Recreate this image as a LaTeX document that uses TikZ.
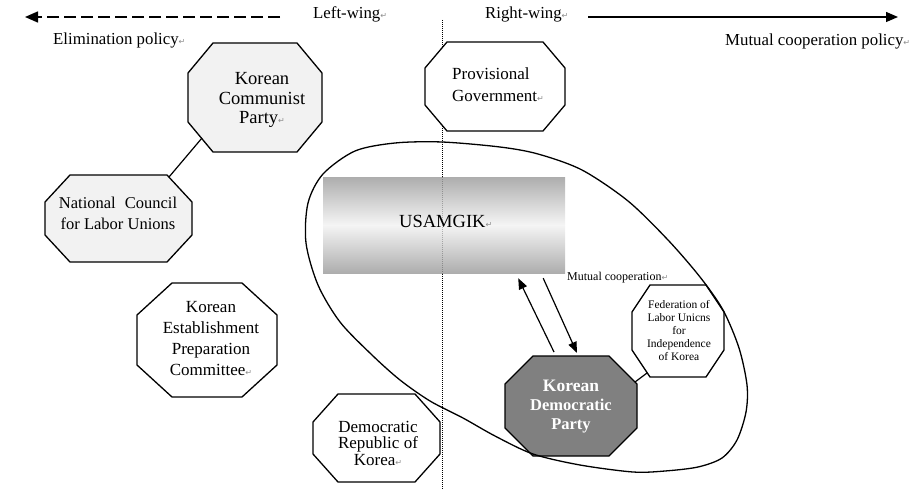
\documentclass[tikz,border=0pt]{standalone}
\usepackage{fontspec}
\setmainfont{Liberation Serif}
\newfontfamily\symfont{DejaVu Sans}
\usetikzlibrary{arrows.meta,calc}
\definecolor{lightfill}{HTML}{F2F2F2}
\definecolor{kdpfill}{HTML}{808080}
\newcommand\retmark{{\symfont\fontsize{8}{8}\selectfont\color{black!45}↵}}
\newcommand\octpath[7]{\path[#1] ({#2+#6},#3) -- ({#4-#6},#3) -- (#4,{#3+#7}) -- (#4,{#5-#7}) -- ({#4-#6},#5) -- ({#2+#6},#5) -- (#2,{#5-#7}) -- (#2,{#3+#7}) -- cycle;}
\begin{document}
\begin{tikzpicture}[x=1pt,y=-1pt,
  oct/.style={draw=black, line width=1.3pt, line join=miter},
  txt/.style={inner sep=0pt, align=center, text=black},
  conn/.style={draw=black, line width=1.2pt},
  divider/.style={draw=black, line width=1pt, dash pattern=on 1pt off 1pt},
  usabox/.style={inner sep=0pt, draw=none, minimum width=242pt, minimum height=96pt,
    top color=black!32, bottom color=black!32, middle color=black!4}]
\useasboundingbox (0,0) rectangle (909,489);

% dividing line
\coordinate (divtop) at (442,20);
\coordinate (divbot) at (442,489);
\draw[divider] (divtop) -- (divbot);

% USAMGIK box
\node[usabox] (usa) at (444,225) {};
\draw[divider, draw opacity=0.25] (usa.north -| divtop) -- (usa.south -| divtop);
\node[txt, anchor=west, font=\fontsize{18.5}{20}\selectfont] (usatext) at (399,221) {USAMGIK\retmark};

% octagons
\octpath{oct, fill=lightfill}{188}{43}{322}{152}{25}{30}
\octpath{oct, fill=lightfill}{45}{175}{192}{262}{25}{27}
\octpath{oct, fill=white}{137}{283}{277}{397}{35}{32}
\octpath{oct, fill=white}{313}{394}{440}{482}{25}{28}
\octpath{oct, fill=white}{425}{42}{565}{131}{22}{26}
\octpath{oct, fill=kdpfill}{505}{356}{637}{456}{28}{28}
\octpath{oct, fill=white}{632}{285}{724}{377}{18}{27}

% large enclosing curve
\draw[line width=1.3pt] plot[smooth cycle, tension=0.5] coordinates {
  (442,142) (500,147) (538,154) (582,170) (628,201) (668,240) (700,277)
  (723,310) (739,348) (747,385) (746,412) (737,440) (722,458) (698,467)
  (665,471) (633,472) (580,465) (533,454) (495,436) (463,418) (430,401)
  (400,380) (372,355) (340,322) (318,285) (306,243) (308,203) (323,174)
  (355,151) (395,143)};

% top arrows
\coordinate (elimstart) at (280,17);
\coordinate (elimend) at (25,17);
\coordinate (coopstart) at (588,17);
\coordinate (coopend) at (898,17);
\draw[line width=1.5pt, dash pattern=on 12pt off 5pt, -{Triangle[length=13pt,width=11pt]}] (elimstart) -- (elimend);
\draw[line width=1.3pt, -{Triangle[length=12pt,width=10pt]}] (coopstart) -- (coopend);

% text labels
\node[txt, anchor=base west, font=\fontsize{16.8}{18}\selectfont] (leftwing) at (313,18.5) {Left-wing\retmark};
\node[txt, anchor=base west, font=\fontsize{16.8}{18}\selectfont] (rightwing) at (485,18.5) {Right-wing\retmark};
\node[txt, anchor=base west, font=\fontsize{16.8}{18}\selectfont] (elim) at (53,45) {Elimination policy\retmark};
\node[txt, anchor=base west, font=\fontsize{16.8}{18}\selectfont] (coop) at (725,46) {Mutual cooperation policy\retmark};

\node[txt, font=\fontsize{18.5}{19.5}\selectfont] (kcp) at (262,100) {Korean\\Communist\\Party\retmark};
\node[txt, font=\fontsize{16.5}{21}\selectfont] (nclu) at (118,213) {National\hspace{0.55em}Council\\for Labor Unions};
\node[txt, font=\fontsize{17}{21}\selectfont] (kepc) at (211,339) {Korean\\Establishment\\Preparation\\Committee\retmark};
\node[txt, font=\fontsize{17}{16.5}\selectfont] (drk) at (378,443) {Democratic\\Republic of\\Korea\retmark};
\node[txt, align=left, anchor=west, font=\fontsize{17}{22}\selectfont] (pg) at (452,85) {Provisional\\Government\retmark};
\node[txt, text=white, font=\bfseries\fontsize{16.5}{19}\selectfont] (kdp) at (571,407) {{\fontsize{17.5}{19}\selectfont Korean}\\Democratic\\Party};
\node[txt, font=\fontsize{11.5}{13}\selectfont] (fluik) at (679,331) {Federation of\\Labor Unicns\\for\\Independence\\of Korea};
\node[txt, anchor=base west, font=\fontsize{12}{13}\selectfont] (mcoop) at (567,280.5) {Mutual cooperation\retmark};

% connectors
\coordinate (kcp-sw) at (202,138);
\coordinate (nclu-ne) at (169,177);
\draw[conn] (kcp-sw) -- (nclu-ne);
\coordinate (kdp-ne) at (635,382);
\coordinate (fluik-sw) at (647,373);
\draw[conn] (kdp-ne) -- (fluik-sw);

\coordinate (upfrom) at (554,352);
\coordinate (upto) at ($(usa.south east)+(-47,5)$);
\coordinate (dnfrom) at ($(usa.south east)+(-22,5)$);
\coordinate (dnto) at (577,353);
\draw[conn, -{Triangle[length=11pt,width=8.5pt]}] (upfrom) -- (upto);
\draw[conn, -{Triangle[length=11pt,width=8.5pt]}] (dnfrom) -- (dnto);
\end{tikzpicture}
\end{document}
